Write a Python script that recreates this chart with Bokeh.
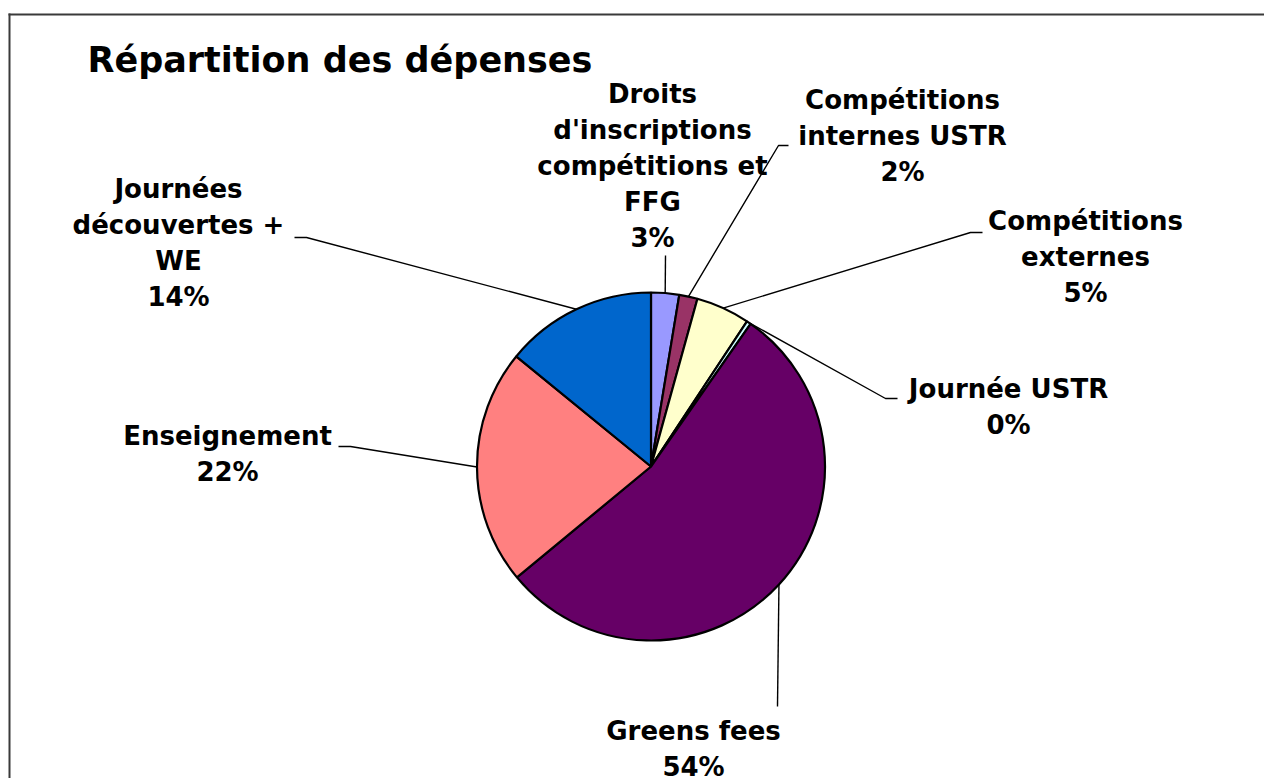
import math
from bokeh.plotting import figure
from bokeh.models import Range1d, ColumnDataSource
from bokeh.core.properties import value
from bokeh.embed import file_html
from bokeh.resources import INLINE

# ---------------- data ----------------
title_text = "Répartition des dépenses"
categories = [
    "Droits d'inscriptions compétitions et FFG",
    "Compétitions internes USTR",
    "Compétitions externes",
    "Journée USTR",
    "Greens fees",
    "Enseignement",
    "Journées découvertes + WE",
]
label_lines = [
    ["Droits", "d'inscriptions", "compétitions et", "FFG"],
    ["Compétitions", "internes USTR"],
    ["Compétitions", "externes"],
    ["Journée USTR"],
    ["Greens fees"],
    ["Enseignement"],
    ["Journées", "découvertes +", "WE"],
]
values = [2.6, 1.7, 5.0, 0.4, 54.3, 21.9, 14.1]
colors = ["#9999FF", "#993366", "#FFFFCC", "#CCFFFF", "#660066", "#FF8080", "#0066CC"]

# ---------------- layout (screenshot pixel coords) ----------------
W, H = 1264, 778
TEXT_DY = 10  # compensation for svg baseline placement
def X(px):
    return px
def Y(py):
    return H - py

cx, cy, R = X(650.5), Y(466), 174
label_anchor = [(652, 103), (902, 109), (1085, 230), (1008, 398), (693, 740), (227, 445), (178, 198)]
leader_pts = [
    [(665, 255)],
    [(788, 145), (778, 145)],
    [(982, 232), (970, 232)],
    [(897, 398), (885, 398)],
    [(777, 706)],
    [(338, 446), (350, 446)],
    [(294, 237), (306, 237)],
]
LINE_SP = 36
FONT = value("DejaVu Sans")

p = figure(width=W, height=H, output_backend="svg", toolbar_location=None,
           x_range=Range1d(0, W), y_range=Range1d(0, H),
           x_axis_type=None, y_axis_type=None, min_border=0)
p.grid.visible = False
p.outline_line_color = None
p.background_fill_color = "white"
p.border_fill_color = "white"

# chart border (top and left edges as thin filled bars; right and bottom lie outside the picture)
p.quad(left=[X(8), X(8)], right=[X(10), X(W)], top=[Y(13), Y(13)], bottom=[Y(H), Y(15)],
       fill_color="#3a3a3a", line_color=None)

# wedges
total = sum(values)
starts, ends, mids = [], [], []
cum = 0.0
for v in values:
    a0 = math.pi / 2 - 2 * math.pi * (cum + v) / total
    a1 = math.pi / 2 - 2 * math.pi * cum / total
    starts.append(a0)
    ends.append(a1)
    mids.append((a0 + a1) / 2)
    cum += v

src = ColumnDataSource(dict(start=starts, end=ends, color=colors, name=categories))
p.wedge(x=cx, y=cy, radius=R, start_angle="start", end_angle="end", direction="anticlock",
        fill_color="color", line_color="black", line_width=2.2, source=src)

# leader lines
for i, pts in enumerate(leader_pts):
    ex = cx + R * math.cos(mids[i])
    ey = cy + R * math.sin(mids[i])
    xs = [X(a) for a, b in pts] + [ex]
    ys = [Y(b) for a, b in pts] + [ey]
    p.line(x=xs, y=ys, line_color="black", line_width=1.4)

# labels
tx, ty, tt = [], [], []
for i, lines in enumerate(label_lines):
    pct = f"{round(values[i] / total * 100)}%"
    ax, ay = label_anchor[i]
    for j, s in enumerate(lines + [pct]):
        tx.append(X(ax))
        ty.append(Y(ay + j * LINE_SP - TEXT_DY))
        tt.append(s)
p.text(x=tx, y=ty, text=tt, text_font=FONT, text_font_style="bold", text_font_size="26px",
       text_align="center", text_baseline="alphabetic", text_color="black")

# title
p.text(x=[X(87)], y=[Y(69 - TEXT_DY)], text=[title_text], text_font=FONT, text_font_style="bold",
       text_font_size="35px", text_align="left", text_baseline="alphabetic", text_color="black")

open("out.html", "w").write(file_html(p, INLINE))
